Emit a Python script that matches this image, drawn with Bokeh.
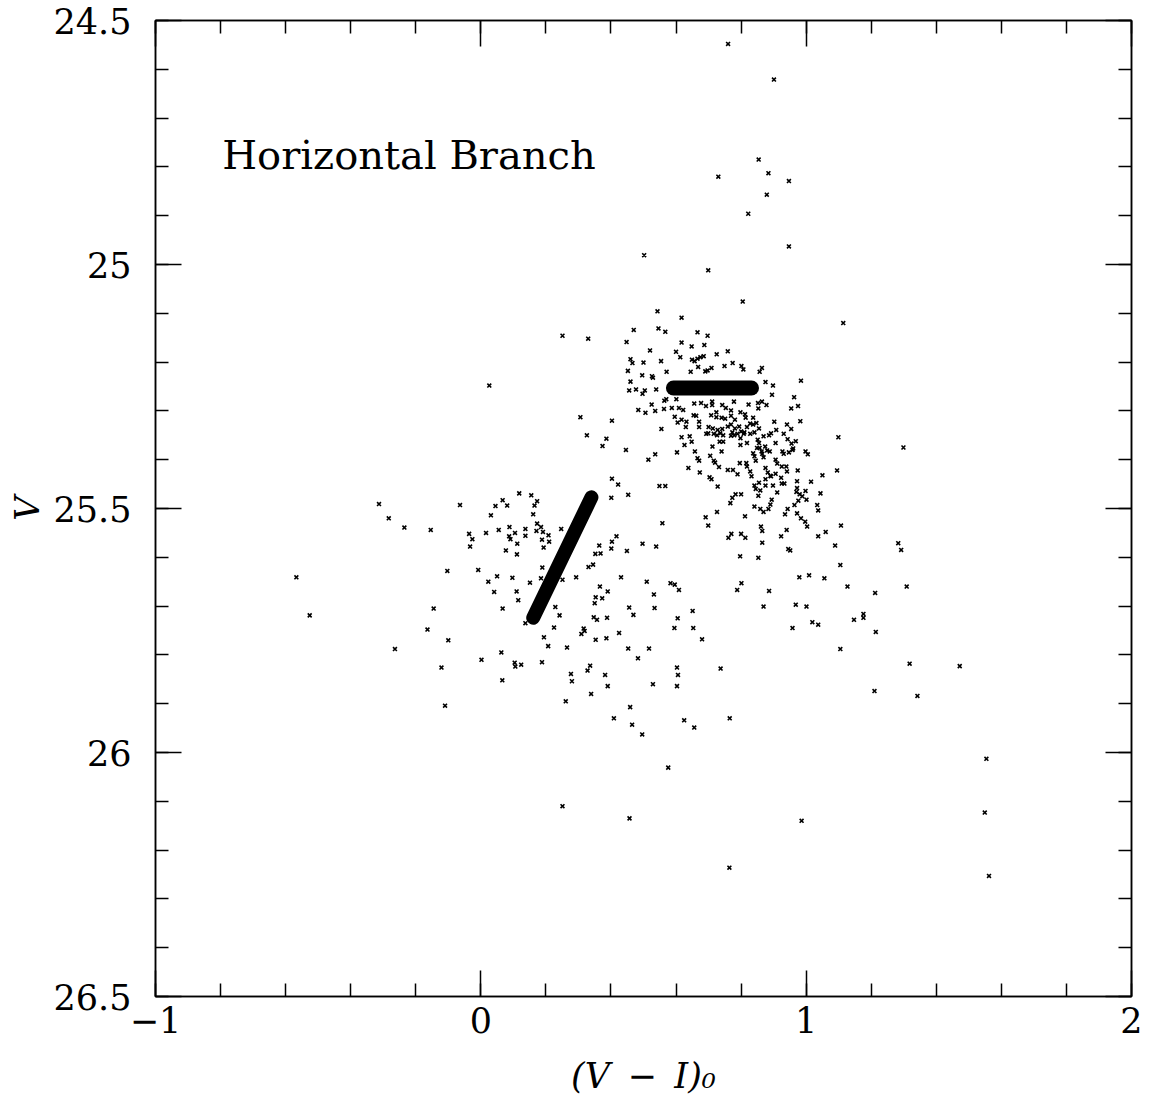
import numpy as np
from bokeh.plotting import figure
from bokeh.models import Range1d, LinearAxis, FixedTicker, Label
from bokeh.embed import file_html
from bokeh.resources import INLINE

FONT = "DejaVu Serif"

# ---------------- data ----------------
x_ticks = [-1, 0, 1, 2]
x_tick_labels = ["\u22121", "0", "1", "2"]
y_ticks = [24.5, 25, 25.5, 26, 26.5]
y_tick_labels = ["24.5", "25", "25.5", "26", "26.5"]
x_title = "(V\u2002\u2212\u2002I)\u2080"
y_title = "V"
note_text = "Horizontal Branch"

# theoretical HB loci (thick dotted tracks): end points
hb_blue_vi = [0.161, 0.340]
hb_blue_v = [25.724, 25.477]
hb_red_vi = [0.592, 0.832]
hb_red_v = [25.253, 25.253]

# observed stars, (V-I)0 , V
sparse_upper = [
    (0.760, 24.548), (0.901, 24.621), (0.854, 24.785), (0.730, 24.820), (0.884, 24.813),
    (0.947, 24.829), (0.879, 24.857), (0.822, 24.896), (0.947, 24.963), (0.502, 24.981),
    (0.699, 25.012), (0.805, 25.076), (1.114, 25.120), (0.543, 25.096), (0.617, 25.109),
    (0.470, 25.134), (0.546, 25.131), (0.567, 25.138), (0.666, 25.139), (0.697, 25.146),
    (0.251, 25.146), (0.330, 25.152), (0.026, 25.248), (1.299, 25.375), (1.099, 25.354),
]

clump_upper = [
    (0.448, 25.159), (0.617, 25.160), (0.648, 25.168), (0.687, 25.165), (0.520, 25.176),
    (0.600, 25.179), (0.613, 25.190), (0.725, 25.184), (0.759, 25.178), (0.460, 25.194),
    (0.466, 25.202), (0.500, 25.201), (0.554, 25.198), (0.649, 25.195), (0.657, 25.198),
    (0.666, 25.193), (0.685, 25.188), (0.675, 25.190), (0.668, 25.210), (0.690, 25.219),
    (0.697, 25.217), (0.709, 25.212), (0.749, 25.208), (0.774, 25.202), (0.801, 25.208),
    (0.807, 25.215), (0.864, 25.212), (0.857, 25.220), (0.452, 25.218), (0.496, 25.227),
    (0.526, 25.229), (0.529, 25.232), (0.571, 25.220), (0.645, 25.220), (0.460, 25.240),
    (0.984, 25.238), (0.875, 25.241), (0.898, 25.248), (0.456, 25.258), (0.477, 25.256),
    (0.504, 25.258), (0.497, 25.265), (0.539, 25.256), (0.895, 25.267), (0.963, 25.272),
    (0.564, 25.279), (0.570, 25.276), (0.601, 25.276), (0.525, 25.287), (0.484, 25.298),
    (0.506, 25.304), (0.536, 25.300), (0.563, 25.296), (0.587, 25.294), (0.609, 25.294),
    (0.596, 25.312), (0.605, 25.324), (0.555, 25.337), (0.403, 25.320), (0.386, 25.357),
    (0.374, 25.372), (0.446, 25.380), (0.515, 25.400), (0.536, 25.389), (0.603, 25.385),
    (0.326, 25.350), (0.306, 25.313), (0.549, 25.454), (0.567, 25.454), (0.422, 25.451),
    (0.403, 25.439), (0.453, 25.472), (0.401, 25.478),
]

clump_core = [
    (0.656, 25.285), (0.677, 25.284), (0.692, 25.290), (0.711, 25.288), (0.711, 25.281),
    (0.742, 25.288), (0.753, 25.294), (0.769, 25.299), (0.778, 25.281), (0.823, 25.287),
    (0.852, 25.284), (0.853, 25.295), (0.864, 25.281), (0.878, 25.288), (0.954, 25.295),
    (0.975, 25.290), (0.622, 25.298), (0.617, 25.318), (0.654, 25.309), (0.662, 25.310),
    (0.632, 25.322), (0.630, 25.333), (0.671, 25.322), (0.671, 25.333), (0.708, 25.309),
    (0.724, 25.303), (0.724, 25.313), (0.740, 25.314), (0.751, 25.316), (0.769, 25.310),
    (0.781, 25.318), (0.798, 25.303), (0.812, 25.307), (0.814, 25.314), (0.837, 25.314),
    (0.700, 25.333), (0.713, 25.336), (0.699, 25.346), (0.716, 25.347), (0.728, 25.339),
    (0.736, 25.346), (0.742, 25.337), (0.759, 25.332), (0.769, 25.328), (0.773, 25.344),
    (0.781, 25.336), (0.794, 25.332), (0.800, 25.342), (0.810, 25.344), (0.818, 25.333),
    (0.828, 25.326), (0.837, 25.328), (0.847, 25.325), (0.693, 25.347), (0.726, 25.350),
    (0.745, 25.350), (0.769, 25.351), (0.779, 25.350), (0.789, 25.347), (0.808, 25.347),
    (0.828, 25.347), (0.841, 25.344), (0.855, 25.336), (0.617, 25.354), (0.642, 25.352),
    (0.648, 25.363), (0.626, 25.370), (0.712, 25.373), (0.734, 25.363), (0.745, 25.363),
    (0.798, 25.356), (0.798, 25.370), (0.818, 25.366), (0.851, 25.359), (0.855, 25.366),
    (0.849, 25.376), (0.857, 25.376), (0.863, 25.383), (0.869, 25.352), (0.886, 25.350),
    (0.892, 25.346), (0.908, 25.339), (0.902, 25.322), (0.931, 25.347), (0.941, 25.328),
    (0.954, 25.337), (0.968, 25.362), (0.982, 25.321), (0.943, 25.358), (0.955, 25.367),
    (0.960, 25.377), (0.874, 25.373), (0.880, 25.381), (0.888, 25.383), (0.906, 25.366),
    (0.658, 25.383), (0.666, 25.397), (0.671, 25.402), (0.705, 25.392), (0.740, 25.383),
    (0.716, 25.402), (0.720, 25.406), (0.732, 25.415), (0.638, 25.417), (0.673, 25.426),
    (0.796, 25.407), (0.816, 25.407), (0.828, 25.424), (0.837, 25.387), (0.841, 25.393),
    (0.845, 25.402), (0.865, 25.388), (0.869, 25.395), (0.906, 25.400), (0.911, 25.408),
    (0.927, 25.383), (0.931, 25.388), (0.947, 25.385), (0.958, 25.380), (0.998, 25.383),
    (1.005, 25.389), (0.759, 25.421), (0.775, 25.421), (0.789, 25.430), (0.818, 25.414),
    (0.875, 25.417), (0.882, 25.426), (0.890, 25.433), (0.906, 25.429), (0.925, 25.414),
    (0.939, 25.414), (0.941, 25.424), (0.974, 25.422), (0.703, 25.436), (0.709, 25.440),
    (0.728, 25.455), (0.832, 25.434), (0.855, 25.447), (0.875, 25.440), (0.892, 25.434),
    (0.875, 25.453), (0.898, 25.453), (0.923, 25.437), (0.925, 25.449), (0.933, 25.449),
    (0.972, 25.444), (1.015, 25.445), (1.050, 25.432), (1.095, 25.422), (0.841, 25.453),
    (0.845, 25.460), (0.859, 25.463), (0.853, 25.474), (0.911, 25.467), (0.972, 25.458),
    (0.970, 25.466), (0.980, 25.471), (0.988, 25.475), (0.998, 25.464), (0.976, 25.484),
    (1.001, 25.482), (1.044, 25.469), (0.767, 25.489), (0.773, 25.478), (0.783, 25.471),
    (0.800, 25.471), (0.894, 25.482), (0.890, 25.492), (0.841, 25.496), (0.859, 25.501),
    (0.869, 25.507), (0.884, 25.501), (0.935, 25.512), (0.943, 25.501), (0.964, 25.493),
    (0.972, 25.510), (1.034, 25.493), (1.037, 25.504), (0.984, 25.520), (0.726, 25.507),
    (0.691, 25.518), (0.812, 25.516),
]

blue_side = [
    (-0.567, 25.641), (-0.526, 25.719), (-0.313, 25.491), (-0.283, 25.520), (-0.235, 25.539),
    (-0.154, 25.544), (-0.064, 25.493), (-0.103, 25.628), (-0.145, 25.705), (-0.164, 25.748),
    (-0.100, 25.770), (-0.264, 25.788), (-0.121, 25.826), (-0.110, 25.904), (-0.036, 25.552),
    (-0.026, 25.563), (-0.033, 25.578), (0.016, 25.550), (0.055, 25.544), (0.031, 25.514),
    (0.045, 25.495), (0.067, 25.483), (0.081, 25.494), (0.118, 25.469), (0.155, 25.473),
    (0.173, 25.485), (0.165, 25.494), (0.161, 25.512), (0.173, 25.531), (0.171, 25.546),
    (0.137, 25.542), (0.137, 25.556), (0.088, 25.538), (0.105, 25.550), (0.087, 25.557),
    (0.091, 25.563), (0.112, 25.572), (0.077, 25.586), (0.111, 25.594), (-0.008, 25.626),
    (0.023, 25.650), (0.050, 25.639), (0.041, 25.671), (0.097, 25.642), (0.151, 25.652),
    (0.110, 25.670), (0.115, 25.688), (0.067, 25.705), (0.137, 25.735), (0.063, 25.795),
    (0.002, 25.810), (0.104, 25.816), (0.106, 25.824), (0.124, 25.820), (0.066, 25.852),
]

lower_field = [
    (0.185, 25.538), (0.191, 25.548), (0.208, 25.555), (0.210, 25.568), (0.188, 25.564),
    (0.193, 25.580), (0.247, 25.542), (0.558, 25.530), (0.699, 25.535), (0.861, 25.537),
    (0.865, 25.546), (0.940, 25.544), (0.997, 25.527), (1.003, 25.537), (1.107, 25.535),
    (0.770, 25.552), (0.761, 25.560), (0.800, 25.552), (0.813, 25.560), (0.923, 25.557),
    (1.037, 25.557), (1.060, 25.548), (0.865, 25.570), (1.089, 25.576), (0.951, 25.586),
    (0.945, 25.583), (0.417, 25.557), (0.364, 25.576), (0.403, 25.568), (0.401, 25.582),
    (0.352, 25.593), (0.368, 25.592), (0.497, 25.572), (0.539, 25.578), (0.449, 25.587),
    (0.797, 25.598), (0.853, 25.601), (1.105, 25.616), (0.331, 25.620), (0.345, 25.615),
    (0.189, 25.621), (0.185, 25.643), (0.251, 25.646), (0.293, 25.641), (0.431, 25.641),
    (0.510, 25.650), (0.583, 25.653), (0.596, 25.656), (0.609, 25.667), (0.801, 25.653),
    (0.788, 25.667), (0.886, 25.669), (0.979, 25.641), (1.009, 25.637), (1.056, 25.643),
    (1.127, 25.660), (0.366, 25.660), (0.390, 25.670), (0.353, 25.682), (0.373, 25.684),
    (0.350, 25.694), (0.532, 25.676), (0.869, 25.701), (0.968, 25.697), (1.001, 25.701),
    (0.456, 25.703), (0.469, 25.718), (0.534, 25.704), (0.651, 25.710), (0.229, 25.702),
    (0.242, 25.719), (0.347, 25.723), (0.357, 25.728), (0.388, 25.724), (0.605, 25.725),
    (0.595, 25.745), (0.653, 25.745), (1.019, 25.733), (1.037, 25.738), (0.958, 25.745),
    (0.225, 25.744), (0.316, 25.746), (0.319, 25.751), (0.309, 25.757), (0.425, 25.755),
    (0.353, 25.769), (0.386, 25.766), (0.194, 25.764), (0.680, 25.768), (0.207, 25.782),
    (0.265, 25.785), (0.453, 25.787), (0.517, 25.787), (1.105, 25.788), (0.483, 25.807),
    (0.188, 25.815), (0.603, 25.826), (0.606, 25.841), (0.603, 25.864), (0.737, 25.828),
    (0.336, 25.822), (0.328, 25.832), (0.277, 25.839), (0.280, 25.854), (0.382, 25.841),
    (0.390, 25.864), (0.529, 25.860), (0.339, 25.880), (0.261, 25.895), (0.459, 25.907),
    (0.409, 25.930), (0.465, 25.943), (0.496, 25.963), (0.625, 25.934), (0.656, 25.949),
    (0.765, 25.930),
]

right_field = [
    (1.283, 25.571), (1.292, 25.585), (1.212, 25.673), (1.309, 25.660), (1.147, 25.728),
    (1.176, 25.716), (1.176, 25.724), (1.214, 25.753), (1.318, 25.818), (1.472, 25.823),
    (1.210, 25.874), (1.342, 25.884), (0.576, 26.031), (0.251, 26.110), (0.457, 26.135),
    (0.764, 26.236), (0.986, 26.140), (1.554, 26.013), (1.549, 26.123), (1.562, 26.253),
]

stars = sparse_upper + clump_upper + clump_core + blue_side + lower_field + right_field
star_vi = [s[0] for s in stars]
star_v = [s[1] for s in stars]

# ---------------- figure ----------------
p = figure(width=1150, height=1112,
           x_range=Range1d(-1, 2), y_range=Range1d(26.5, 24.5),
           output_backend="svg", toolbar_location=None,
           min_border_left=155, min_border_right=19,
           min_border_top=20, min_border_bottom=116)
p.background_fill_color = "white"
p.border_fill_color = "white"
p.outline_line_color = "black"
p.outline_line_width = 1.5
p.xgrid.visible = False
p.ygrid.visible = False

x_minor = [round(v, 1) for v in np.arange(-1.0, 2.0001, 0.2)]
y_minor = [round(v, 1) for v in np.arange(24.5, 26.5001, 0.1)]


def style_axis(ax, ticks, minor, labels, show, standoff):
    ax.ticker = FixedTicker(ticks=ticks, minor_ticks=minor)
    ax.major_tick_in = 26
    ax.major_tick_out = 0
    ax.minor_tick_in = 13
    ax.minor_tick_out = 0
    ax.axis_line_width = 1.5
    ax.major_tick_line_width = 1.5
    ax.minor_tick_line_width = 1.5
    ax.axis_line_color = "black"
    ax.major_tick_line_color = "black"
    ax.minor_tick_line_color = "black"
    if show:
        ax.major_label_overrides = dict(zip(ticks, labels))
        ax.major_label_text_font = FONT
        ax.major_label_text_font_size = "35px"
        ax.major_label_text_color = "black"
        ax.major_label_standoff = standoff
        ax.axis_label_text_font = FONT
        ax.axis_label_text_font_style = "italic"
        ax.axis_label_text_color = "black"
    else:
        ax.major_label_text_color = None
        ax.major_label_text_font_size = "1px"
        ax.major_label_standoff = 0


xa = p.xaxis[0]
style_axis(xa, x_ticks, x_minor, x_tick_labels, True, 10)
xa.axis_label = x_title
xa.axis_label_text_font_size = "35px"
xa.axis_label_standoff = 20

ya = p.yaxis[0]
style_axis(ya, y_ticks, y_minor, y_tick_labels, True, 24)
ya.axis_label = y_title
ya.axis_label_text_font_size = "34px"
ya.axis_label_standoff = 4

top = LinearAxis()
style_axis(top, x_ticks, x_minor, x_tick_labels, False, 0)
p.add_layout(top, "above")
right = LinearAxis()
style_axis(right, y_ticks, y_minor, y_tick_labels, False, 0)
p.add_layout(right, "right")

# stars
p.scatter(star_vi, star_v, marker="x", size=5.5, line_color="black", line_width=1.6)

# HB model tracks
p.line(hb_blue_vi, hb_blue_v, line_width=14, line_color="black", line_cap="round")
p.line(hb_red_vi, hb_red_v, line_width=15, line_color="black", line_cap="round")

# annotation
p.add_layout(Label(x=-0.795, y=24.776, text=note_text, text_font=FONT,
                   text_font_size="40px", text_color="black",
                   text_align="left", text_baseline="alphabetic"))

open("out.html", "w").write(file_html(p, INLINE))
